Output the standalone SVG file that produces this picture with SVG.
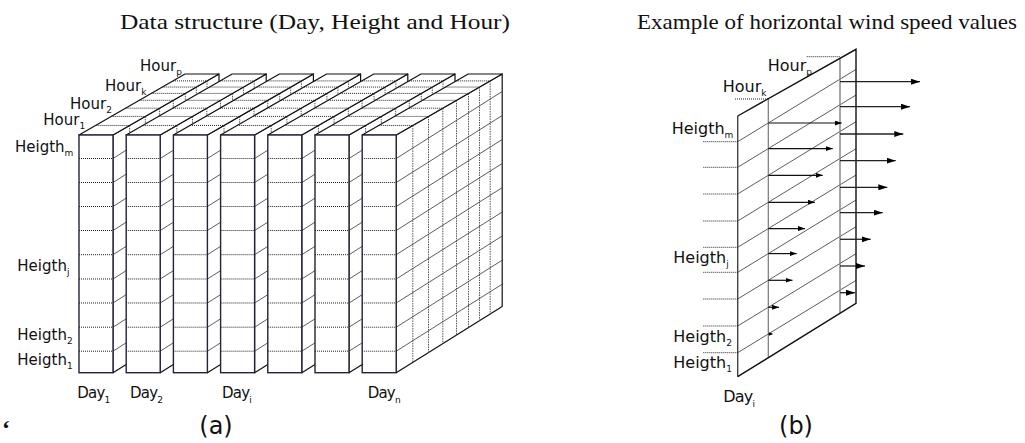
<svg xmlns="http://www.w3.org/2000/svg" width="1025" height="443" viewBox="0 0 1025 443">
<style>
.title{font-family:"Liberation Serif","Times New Roman",serif;font-size:22px;fill:#111}
.lbl{font-family:"DejaVu Sans",Verdana,sans-serif;font-size:15px;fill:#111}
.lblb{font-family:"DejaVu Sans",Verdana,sans-serif;font-size:16px;fill:#111}
.sub{font-size:9px}
.cap{font-family:"DejaVu Sans",Verdana,sans-serif;font-size:24px;fill:#111}
.face{fill:#fff;stroke:#111;stroke-width:1.2;stroke-linejoin:round}
.front{fill:#fff;stroke:#23233a;stroke-width:1.4}
.dot{stroke:#222;stroke-width:1;stroke-dasharray:1 1;fill:none}
.vdot{stroke:#555;stroke-width:1;stroke-dasharray:1.5 1;fill:none}
.diag{stroke:#333;stroke-width:0.8;fill:none}
.edge{stroke:#111;stroke-width:1.4;fill:none}
.arrS{stroke:#111;stroke-width:1.2;fill:none;marker-end:url(#ahS)}
.arrL{stroke:#222;stroke-width:1.3;fill:none;marker-end:url(#ahL)}
</style>
<defs>
<marker id="ahS" markerWidth="7" markerHeight="5" refX="7" refY="2.5" orient="auto" markerUnits="userSpaceOnUse"><path d="M0,0L7,2.5L0,5z" fill="#000"/></marker>
<marker id="ahL" markerWidth="9" markerHeight="6" refX="9" refY="3" orient="auto" markerUnits="userSpaceOnUse"><path d="M0,0L9,3L0,6z" fill="#000"/></marker>
<marker id="ahT" markerWidth="4" markerHeight="4" refX="4" refY="2" orient="auto" markerUnits="userSpaceOnUse"><path d="M0,0L4,2L0,4z" fill="#000"/></marker>
<g id="slab">
  <polygon class="face" points="34,135 140,74 140,306.5 34,372.7"/>
  <path class="vdot" d="M50.6,125.45V362.33M66.3,116.41V352.53M80.6,108.18V343.6M94.3,100.3V335.04M106.3,93.39V327.55M117.3,87.06V320.68M128,80.91V314"/>
  <path class="diag" d="M34,158.5L140,91.5M34,182.5L140,115.5M34,206.5L140,139.5M34,230.5L140,163.5M34,254.7L140,187.7M34,279L140,212M34,303L140,236M34,327.2L140,260.2M34,351.2L140,284.2"/>
  <polygon class="face" points="0,135 34,135 140,74 106,74"/>
  <path class="dot" d="M16.6,125.45H50.6M32.3,116.41H66.3M46.6,108.18H80.6M60.3,100.3H94.3M72.3,93.39H106.3M83.3,87.06H117.3M94,80.91H128"/>
  <rect class="front" x="0" y="135" width="34" height="237.7"/>
  <path class="dot" d="M0,158.5H34M0,182.5H34M0,206.5H34M0,230.5H34M0,254.7H34M0,279H34M0,303H34M0,327.2H34M0,351.2H34"/>
</g>
</defs>

<text class="title" x="120" y="29" textLength="390" lengthAdjust="spacingAndGlyphs">Data structure (Day, Height and Hour)</text>
<text class="title" x="637" y="29" textLength="380" lengthAdjust="spacingAndGlyphs">Example of horizontal wind speed values</text>

<g id="day1"><use href="#slab" x="79"/></g>
<g id="day2"><use href="#slab" x="126.2"/></g>
<g id="day3"><use href="#slab" x="173.4"/></g>
<g id="dayi"><use href="#slab" x="220.6"/></g>
<g id="day5"><use href="#slab" x="267.8"/></g>
<g id="day6"><use href="#slab" x="315"/></g>
<g id="dayn"><use href="#slab" x="362.2"/></g>

<g id="labels-a" class="lbl">
  <text x="140" y="70.7">Hour<tspan class="sub" dy="4">p</tspan></text>
  <text x="105" y="90.7">Hour<tspan class="sub" dy="4">k</tspan></text>
  <text x="70" y="109.3">Hour<tspan class="sub" dy="4">2</tspan></text>
  <text x="43.3" y="125">Hour<tspan class="sub" dy="4">1</tspan></text>
  <text x="15" y="151.7">Heigth<tspan class="sub" dy="4">m</tspan></text>
  <text x="17.3" y="270.7">Heigth<tspan class="sub" dy="4">j</tspan></text>
  <text x="17.3" y="340">Heigth<tspan class="sub" dy="4">2</tspan></text>
  <text x="17.3" y="365">Heigth<tspan class="sub" dy="4">1</tspan></text>
  <text x="77.3" y="397.5" letter-spacing="-0.8">Day<tspan class="sub" dy="5" letter-spacing="0">1</tspan></text>
  <text x="130" y="397.5" letter-spacing="-0.8">Day<tspan class="sub" dy="5" letter-spacing="0">2</tspan></text>
  <text x="222" y="397.5" letter-spacing="-0.8">Day<tspan class="sub" dy="5" letter-spacing="0">i</tspan></text>
  <text x="367.7" y="397.5" letter-spacing="-0.8">Day<tspan class="sub" dy="5" letter-spacing="0">n</tspan></text>
</g>

<g id="plane">
  <polygon points="737.7,116 856,49.3 856,303.3 737.7,376.7" fill="#fff"/>
  <path class="diag" d="M737.7,141.7L856,69.4M737.7,167.3L856,95M737.7,194L856,121.7M737.7,221L856,148.7M737.7,247.3L856,175M737.7,272.3L856,200M737.7,299L856,226.7M737.7,326L856,253.7M737.7,352.7L856,280.4"/>
  <path d="M768.3,98.7V357.5" stroke="#777" stroke-width="1.2" fill="none"/>
  <path d="M840,58.3V313.3" stroke="#888" stroke-width="1.5" fill="none"/>
  <path d="M737.7,116V376.7" stroke="#444" stroke-width="1.4" fill="none"/>
  <path class="edge" d="M737.7,116L856,49.3V303.3L737.7,376.7"/>
</g>

<g id="connectors">
  <path class="arrS" d="M768.3,123H841.7"/>
  <path class="arrS" d="M768.3,148.6H832.7"/>
  <path class="arrS" d="M768.3,175.3H822.7"/>
  <path class="arrS" d="M768.3,202.3H815"/>
  <path class="arrS" d="M768.3,228.6H805"/>
  <path class="arrS" d="M768.3,253.6H796.7"/>
  <path class="arrS" d="M768.3,280.3H792.5"/>
  <path class="arrS" d="M768.3,307.3H779"/>
  <path d="M768.3,334H772.5" stroke="#111" stroke-width="1.2" fill="none" marker-end="url(#ahT)"/>
  <path class="arrL" d="M840,81.7H920"/>
  <path class="arrL" d="M840,106.7H910"/>
  <path class="arrL" d="M840,134H903.3"/>
  <path class="arrL" d="M840,160.7H895.7"/>
  <path class="arrL" d="M840,187.3H887.3"/>
  <path class="arrL" d="M840,212.7H882.7"/>
  <path class="arrL" d="M840,239.3H870.7"/>
  <path class="arrL" d="M840,266H865"/>
  <path class="arrL" d="M840,292.7H855"/>
</g>

<g id="ticks-b">
  <path class="dot" d="M703.3,141.7H737.7M703.3,167.3H737.7M703.3,194H737.7M703.3,221H737.7M703.3,247.3H737.7M703.3,272.3H737.7M703.3,299H737.7M703.3,326H737.7M703.3,352.7H737.7M735,99H768.3M806.7,56.7H840"/>
</g>

<g id="labels-b" class="lblb">
  <text x="767.7" y="71">Hour<tspan class="sub" dy="4">p</tspan></text>
  <text x="722.7" y="91.7">Hour<tspan class="sub" dy="4">k</tspan></text>
  <text x="671.7" y="134.3">Heigth<tspan class="sub" dy="4">m</tspan></text>
  <text x="673.3" y="262.7">Heigth<tspan class="sub" dy="4">j</tspan></text>
  <text x="673.3" y="341.7">Heigth<tspan class="sub" dy="4">2</tspan></text>
  <text x="673.3" y="368.3">Heigth<tspan class="sub" dy="4">1</tspan></text>
  <text x="723.3" y="401.7" letter-spacing="-0.8">Day<tspan class="sub" dy="5" letter-spacing="0">i</tspan></text>
</g>

<text class="cap" x="216" y="434" text-anchor="middle">(a)</text>
<text class="cap" x="796" y="434" text-anchor="middle">(b)</text>
<text x="2" y="436" font-family="Liberation Serif, serif" font-size="24" font-weight="bold" fill="#111">‘</text>
</svg>
